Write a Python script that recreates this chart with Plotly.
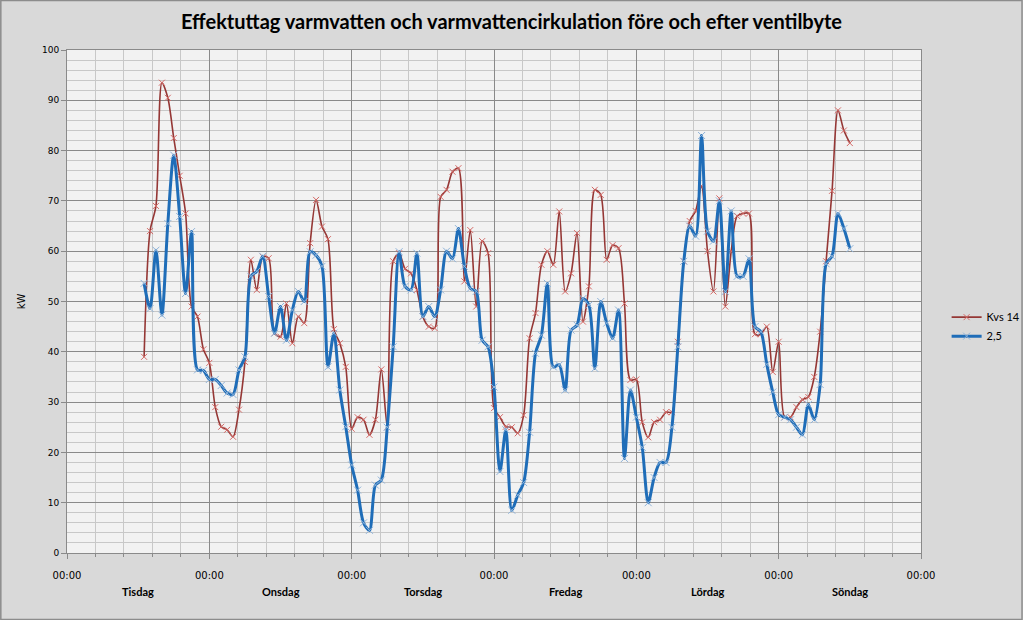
import plotly.graph_objects as go

# hours since Tuesday 00:00
hours = list(range(13, 133))

kvs14 = [39, 64, 69, 93.5, 90.5, 82.5, 75, 67.5, 49, 47, 40.5,
         37.8, 29, 25.1, 24.5, 23.1, 28.5, 38, 58.3, 52.3, 58.9, 58.6, 43.7, 43,
         49.6, 41.7, 47, 45.7, 61.6, 70.2, 64.9, 62.4, 44.5, 41.7, 37,
         24.7, 27, 26.5, 23.5, 26.5, 36.5, 25, 58, 59.6, 56.5, 55.6, 52.3, 47,
         45, 44.7, 70.8, 72.2, 75.8, 76.5, 54, 64.2, 49, 62, 59.6,
         28.8, 27, 25.1, 25, 23.8, 27.4, 42.7, 47.7, 57.3, 60, 57.3, 67.9, 52,
         55.6, 63.6, 46, 53, 72.2, 71.2, 58.3, 61.2, 60.6, 49.6, 34.4,
         34.5, 26, 23, 26, 26.5, 28, 28, 42, 58, 66, 68, 73,
         60, 52, 70.5, 49, 60, 67, 67.5, 67.5, 43.5, 43.5, 45, 36,
         42, 27, 27, 29, 30.5, 31, 35, 44, 58, 72, 88, 84, 81.5]

v25 = [53.6, 48.6, 60.2, 47.3, 65.5, 79.1, 66.9, 51.6, 63.9, 36.4, 36.3,
       34.5, 34.5, 33.3, 31.8, 31.5, 36.4, 39, 55, 56, 59, 51, 43.7, 49,
       42.3, 48.3, 52, 50, 59.9, 59.2, 57, 37, 43.7, 32.4, 25.1,
       17.5, 12.5, 6, 4.5, 13.5, 14.5, 25, 41, 59.9, 53, 52.3, 59.6, 47,
       49, 47, 52.3, 60, 58.5, 64.5, 57, 52.6, 52, 42.3, 41,
       33, 16.2, 24.5, 8.5, 11.5, 14, 24, 39.7, 43.3, 53.6, 37, 37.4, 32.4,
       44.3, 45.3, 50.6, 49.3, 36.7, 50, 45.7, 42.7, 48.3, 18.8, 32.4,
       27, 21, 10, 15, 18, 18, 25, 41, 58, 65, 63, 83,
       64, 62, 70, 52, 68, 55, 55, 58.5, 45, 44, 37.5, 32,
       27.5, 27, 26.5, 25, 23.5, 29.5, 26.5, 33.5, 57.5, 59, 67.5, 64.5, 60.5]

day_ticks = [0, 24, 48, 72, 96, 120, 144]
day_tick_text = ["00:00"] * 7
day_names = ["Tisdag", "Onsdag", "Torsdag", "Fredag", "Lördag", "Söndag"]
day_mid = [12, 36, 60, 84, 108, 132]

fig = go.Figure()
fig.add_trace(go.Scatter(
    x=hours, y=kvs14, name="Kvs 14", mode="lines+markers",
    line=dict(color="#953735", width=1.6, shape="spline", smoothing=0.8),
    marker=dict(symbol="x-thin", size=6, color="#d46a67",
                line=dict(width=1, color="#d46a67")),
))
fig.add_trace(go.Scatter(
    x=hours, y=v25, name="2,5", mode="lines+markers",
    line=dict(color="#1f6db8", width=3, shape="spline", smoothing=0.8),
    marker=dict(symbol="x-thin", size=7, color="#8fb3d9",
                line=dict(width=1, color="#8fb3d9")),
))

for name, xm in zip(day_names, day_mid):
    fig.add_annotation(x=xm, y=-0.0775, xref="x", yref="paper", text=name,
                       showarrow=False, yanchor="middle",
                       font=dict(family="Lato", size=11, color="#000000", weight="bold"))

fig.add_shape(type="rect", xref="paper", yref="paper",
              x0=-0.0775, x1=1.1183, y0=-0.1322, y1=1.0984,
              line=dict(color="#8c8c8c", width=1.5), layer="below")

fig.update_layout(
    width=1023, height=620,
    margin=dict(l=67, r=102, t=50, b=67, autoexpand=False),
    paper_bgcolor="#d9d9d9",
    plot_bgcolor="#f2f2f2",
    title=dict(text="Effektuttag varmvatten och varmvattencirkulation före och efter ventilbyte",
               x=0.5, xanchor="center", y=0.965, yanchor="middle",
               font=dict(family="Lato", size=20, color="#000000", weight="bold")),
    showlegend=True,
    legend=dict(x=1.03, y=0.45, xanchor="left", yanchor="middle",
                bgcolor="rgba(0,0,0,0)", tracegroupgap=4, itemwidth=30,
                font=dict(family="Lato", size=11, color="#000000")),
    xaxis=dict(range=[0, 144], tickmode="array", tickvals=day_ticks,
               ticktext=day_tick_text, showgrid=True, gridcolor="#8a8a8a",
               gridwidth=1, zeroline=False, showline=True, linecolor="#8a8a8a",
               ticks="outside", ticklen=5, tickcolor="#8a8a8a",
               ticklabelstandoff=8,
               tickfont=dict(family="DejaVu Sans", size=10, color="#000000"),
               minor=dict(dtick=4.8, tick0=0, showgrid=True, gridcolor="#c8c8c8",
                          ticks="outside", ticklen=3, tickcolor="#8a8a8a"),
               mirror=True),
    yaxis=dict(range=[0, 100], dtick=10, showgrid=True, gridcolor="#8a8a8a",
               zeroline=False, showline=True, linecolor="#8a8a8a",
               ticks="outside", ticklen=5, tickcolor="#8a8a8a",
               tickfont=dict(family="DejaVu Sans", size=9, color="#000000"),
               minor=dict(dtick=2, showgrid=True, gridcolor="#c8c8c8"),
               title=dict(text="kW", standoff=14,
                          font=dict(family="DejaVu Sans", size=10, color="#000000")),
               mirror=True),
)

fig.write_html("out.html", config={"displayModeBar": False},
               post_script="document.body.style.margin='0';document.body.style.overflow='hidden';")
